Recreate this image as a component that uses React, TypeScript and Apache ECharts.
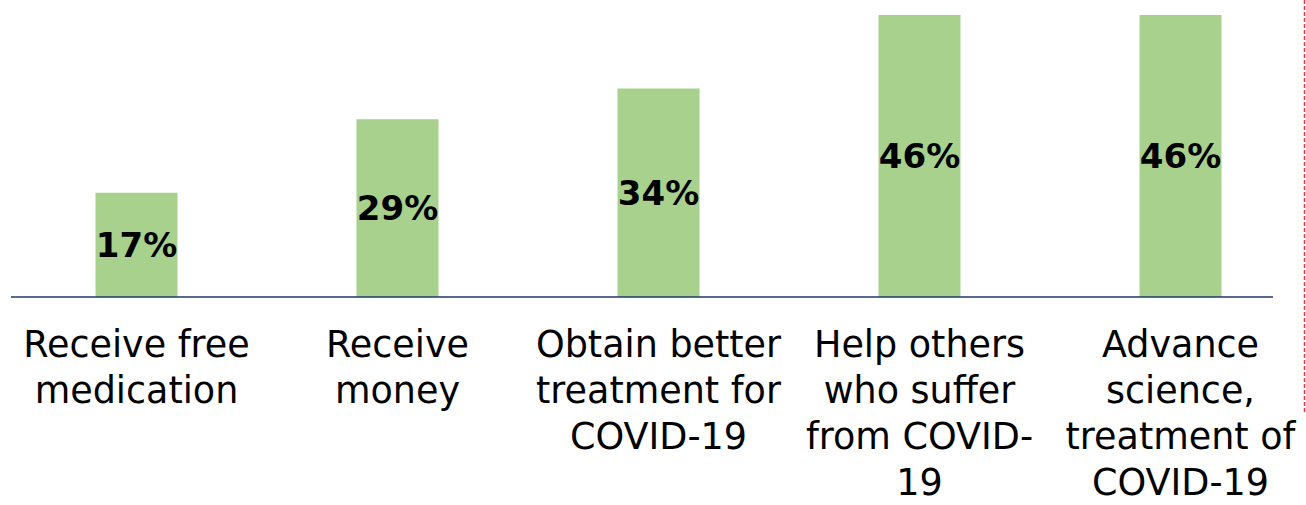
import React, { useEffect, useRef } from "react";
import * as echarts from "echarts";

const categories = [
  "Receive free\nmedication",
  "Receive\nmoney",
  "Obtain better\ntreatment for\nCOVID-19",
  "Help others\nwho suffer\nfrom COVID-\n19",
  "Advance\nscience,\ntreatment of\nCOVID-19",
];
const values = [17, 29, 34, 46, 46];

export default function App() {
  const ref = useRef<HTMLDivElement>(null);
  useEffect(() => {
    document.body.style.margin = "0";
    const chart = echarts.init(ref.current!, null, { renderer: "svg" });
    chart.setOption({
      animation: false,
      grid: { left: 6, width: 1305, top: 15, bottom: 208, containLabel: false },
      xAxis: {
        type: "category",
        data: categories,
        axisLine: { show: false },
        axisTick: { show: false },
        axisLabel: {
          interval: 0,
          margin: 24,
          fontFamily: "DejaVu Sans",
          fontSize: 36.5,
          lineHeight: 46,
          color: "#000000",
          align: "center",
        },
      },
      yAxis: {
        type: "value",
        min: 0,
        max: 46,
        show: false,
        splitLine: { show: false },
      },
      series: [
        {
          type: "bar",
          data: values,
          barWidth: 82,
          itemStyle: { color: "#a9d18e" },
          label: {
            show: true,
            position: "inside",
            formatter: "{c}%",
            fontFamily: "DejaVu Sans",
            fontWeight: "bold",
            fontSize: 34,
            color: "#000000",
          },
        },
      ],
      graphic: [
        {
          type: "line",
          shape: { x1: 11, y1: 297, x2: 1273, y2: 297 },
          style: { stroke: "#1f3a6b", lineWidth: 1.5 },
          z: 10,
        },
        {
          type: "line",
          shape: { x1: 1304.5, y1: 0, x2: 1304.5, y2: 413 },
          style: { stroke: "#e53a3f", lineWidth: 1.5, lineDash: [4, 2] },
        },
      ],
    });
    return () => chart.dispose();
  }, []);
  return (
    <div style={{ width: 1306, height: 505, overflow: "hidden", position: "relative" }}>
      <div ref={ref} style={{ width: 1330, height: 505 }} />
    </div>
  );
}
